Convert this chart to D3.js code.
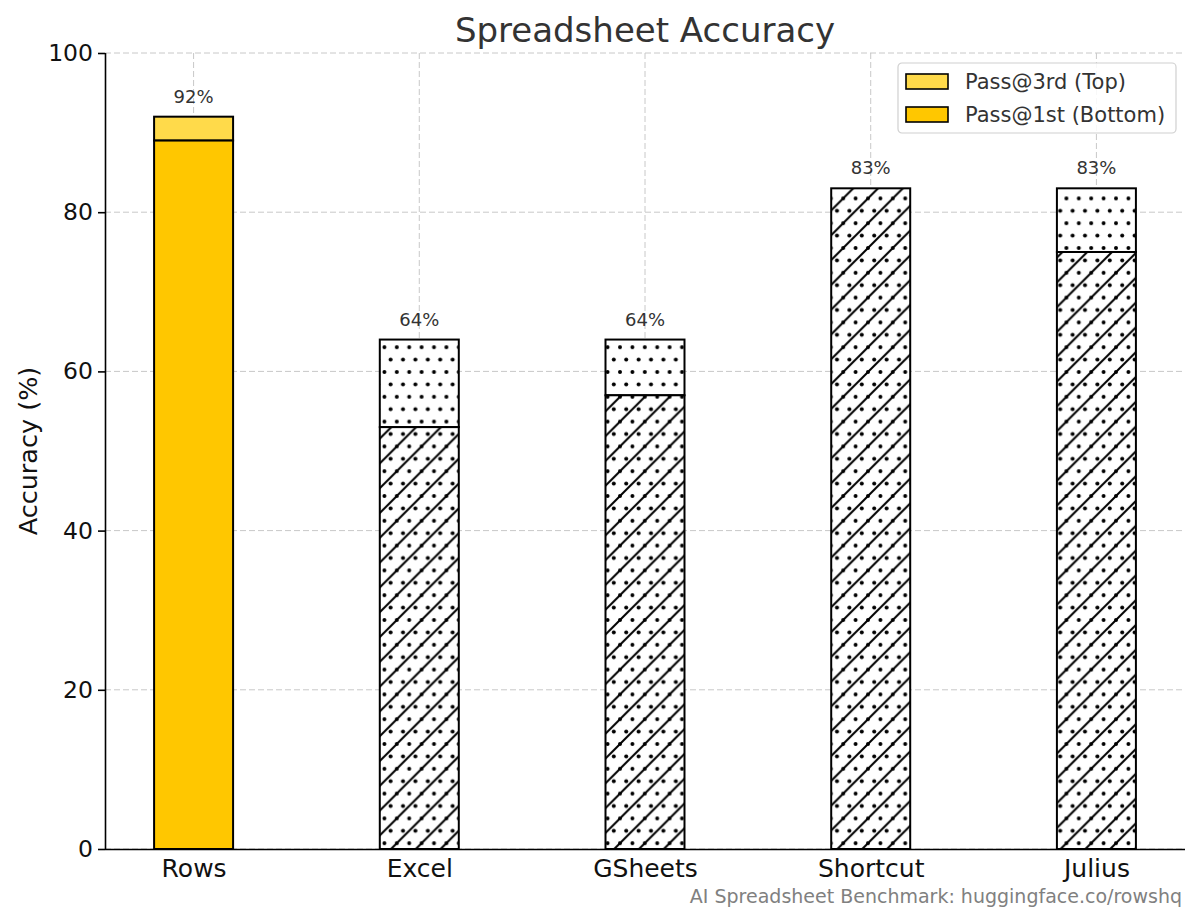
<!DOCTYPE html>
<html>
<head>
<meta charset="utf-8">
<script src="https://cdn.jsdelivr.net/npm/d3@7"></script>
<style>
  body { margin: 0; background: #fff; }
  svg { font-family: 'DejaVu Sans', sans-serif; }
</style>
</head>
<body>
<div id="chart"></div>
<script>
// Tools and their scores
const categories = ['Rows', 'Excel', 'GSheets', 'Shortcut', 'Julius'];
// Pass@1st (bottom segment)
const pass1 = [89, 53, 57, 83, 75];
// Pass@3rd (full height, top segment starts at pass1)
const pass3 = [92, 64, 64, 83, 83];
const yTicks = [0, 20, 40, 60, 80, 100];
const legendLabels = ['Pass@3rd (Top)', 'Pass@1st (Bottom)'];

// Colors
const rows_bottom_color = '#FFC700';
const rows_top_color = '#FFDA4A';
const grid_color = '#c8c8c8';

const width = 1200;
const height = 921;
const plotLeft = 105, plotRight = 1185, plotTop = 53, plotBottom = 849;

const svg = d3.select('#chart').append('svg')
    .attr('width', width)
    .attr('height', height);

// Hatch patterns: diagonal lines + dots for bottom, dots only for top
const defs = svg.append('defs');
const cell = 24.8;
function addDots(p) {
    const pts = [[0, 0], [cell / 2, 0], [cell, 0], [cell / 4, cell / 2], [cell * 3 / 4, cell / 2], [0, cell], [cell / 2, cell], [cell, cell]];
    pts.forEach(d => p.append('circle').attr('cx', d[0]).attr('cy', d[1]).attr('r', 2).attr('fill', '#000'));
}
const pLines = defs.append('pattern')
    .attr('id', 'hatch-lines-dots')
    .attr('patternUnits', 'userSpaceOnUse')
    .attr('width', cell).attr('height', cell);
pLines.append('rect').attr('width', cell).attr('height', cell).attr('fill', '#fff');
[[0, cell, cell, 0], [-2, 2, 2, -2], [cell - 2, cell + 2, cell + 2, cell - 2]].forEach(l => {
    pLines.append('line')
        .attr('x1', l[0]).attr('y1', l[1]).attr('x2', l[2]).attr('y2', l[3])
        .attr('stroke', '#000').attr('stroke-width', 2);
});
addDots(pLines);

const pDots = defs.append('pattern')
    .attr('id', 'hatch-dots')
    .attr('patternUnits', 'userSpaceOnUse')
    .attr('width', cell).attr('height', cell);
pDots.append('rect').attr('width', cell).attr('height', cell).attr('fill', '#fff');
addDots(pDots);

// Scales
const xScale = d3.scalePoint()
    .domain(categories)
    .range([plotLeft, plotRight])
    .padding(0.3925);
const barWidth = xScale.step() * 0.35;

const yScale = d3.scaleLinear()
    .domain([0, 100])
    .range([plotBottom, plotTop]);

// Grid lines (dashed)
svg.append('g')
    .selectAll('line')
    .data(yTicks)
    .enter().append('line')
    .attr('x1', plotLeft).attr('x2', plotRight - 2)
    .attr('y1', d => yScale(d)).attr('y2', d => yScale(d))
    .attr('stroke', grid_color)
    .attr('stroke-width', 1)
    .attr('stroke-dasharray', '6,3');

svg.append('g')
    .selectAll('line')
    .data(categories)
    .enter().append('line')
    .attr('x1', d => xScale(d)).attr('x2', d => xScale(d))
    .attr('y1', plotTop).attr('y2', plotBottom)
    .attr('stroke', grid_color)
    .attr('stroke-width', 1)
    .attr('stroke-dasharray', '6,3');

const table = categories.map((c, i) => ({ cat: c, p1: pass1[i], p3: pass3[i], i: i }));

// Top segments
svg.append('g')
    .selectAll('rect')
    .data(table)
    .enter().append('rect')
    .attr('x', d => xScale(d.cat) - barWidth / 2)
    .attr('y', d => yScale(d.p3))
    .attr('width', barWidth)
    .attr('height', d => yScale(d.p1) - yScale(d.p3))
    .attr('fill', d => d.i === 0 ? rows_top_color : 'url(#hatch-dots)')
    .attr('stroke', '#000')
    .attr('stroke-width', 2);

// Bottom segments
svg.append('g')
    .selectAll('rect')
    .data(table)
    .enter().append('rect')
    .attr('x', d => xScale(d.cat) - barWidth / 2)
    .attr('y', d => yScale(d.p1))
    .attr('width', barWidth)
    .attr('height', d => yScale(0) - yScale(d.p1))
    .attr('fill', d => d.i === 0 ? rows_bottom_color : 'url(#hatch-lines-dots)')
    .attr('stroke', '#000')
    .attr('stroke-width', 2);

// Value labels above the bars
svg.append('g')
    .selectAll('text')
    .data(table)
    .enter().append('text')
    .attr('x', d => xScale(d.cat))
    .attr('y', d => yScale(d.p3) - 14)
    .attr('text-anchor', 'middle')
    .attr('font-size', 18)
    .attr('fill', '#333')
    .text(d => d.p3 + '%');

// Axes (left and bottom spines only)
const yAxis = svg.append('g')
    .attr('transform', `translate(${plotLeft}, 0)`)
    .call(d3.axisLeft(yScale).tickValues(yTicks).tickSize(7).tickPadding(5));
yAxis.select('.domain').attr('stroke', '#000').attr('stroke-width', 1.6).attr('d', `M0.5,${plotBottom}V${plotTop}`);
yAxis.selectAll('.tick line').attr('stroke', '#000').attr('stroke-width', 1.6);
yAxis.selectAll('.tick text').attr('font-size', 23.5).attr('fill', '#111').attr('font-family', 'DejaVu Sans');

const xAxis = svg.append('g')
    .attr('transform', `translate(0, ${plotBottom})`)
    .call(d3.axisBottom(xScale).tickSize(0).tickPadding(10));
xAxis.select('.domain').attr('stroke', '#000').attr('stroke-width', 1.6).attr('d', `M${plotLeft},0.5H${plotRight}`);
xAxis.selectAll('.tick text').attr('font-size', 25).attr('fill', '#111').attr('font-family', 'DejaVu Sans');

// Title
svg.append('text')
    .attr('x', (plotLeft + plotRight) / 2)
    .attr('y', 42)
    .attr('text-anchor', 'middle')
    .attr('font-size', 34)
    .attr('fill', '#333')
    .text('Spreadsheet Accuracy');

// Y axis label
svg.append('text')
    .attr('transform', `translate(37, ${(plotTop + plotBottom) / 2}) rotate(-90)`)
    .attr('text-anchor', 'middle')
    .attr('font-size', 25.5)
    .attr('fill', '#111')
    .text('Accuracy (%)');

// Footer
svg.append('text')
    .attr('x', 1182)
    .attr('y', 903)
    .attr('text-anchor', 'end')
    .attr('font-size', 19)
    .attr('fill', '#808080')
    .text('AI Spreadsheet Benchmark: huggingface.co/rowshq');

// Legend
const legend = svg.append('g').attr('transform', 'translate(898, 63)');
legend.append('rect')
    .attr('width', 278).attr('height', 70)
    .attr('rx', 4)
    .attr('fill', 'rgba(255,255,255,0.85)')
    .attr('stroke', '#d0d0d0')
    .attr('stroke-width', 1.2);
const legendColors = [rows_top_color, rows_bottom_color];
legendLabels.forEach((lbl, i) => {
    legend.append('rect')
        .attr('x', 8).attr('y', 11 + i * 33)
        .attr('width', 42).attr('height', 15)
        .attr('fill', legendColors[i])
        .attr('stroke', '#000')
        .attr('stroke-width', 1.6);
    legend.append('text')
        .attr('x', 67).attr('y', 26 + i * 33)
        .attr('font-size', 21)
        .attr('fill', '#333')
        .text(lbl);
});
</script>
</body>
</html>
